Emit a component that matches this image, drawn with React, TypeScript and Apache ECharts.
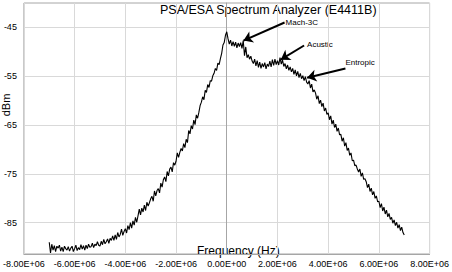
import React, { useEffect, useRef } from "react";
import * as echarts from "echarts";

// Sweep grid of the analyzer trace (Hz)
const sweepStartHz = -7.0e6;
const sweepStepHz = 0.05e6;

// Measured level for each sweep point (dBm), -7.00 MHz .. +7.00 MHz
const levelsDbm: number[] = [
  -89.0, -91.2, -89.4, -90.6, -89.7, -90.9, -89.8, -90.2, -89.6, -90.8,
  -90.0, -90.9, -89.8, -90.3, -90.6, -89.9, -90.8, -90.2, -89.8, -90.9,
  -90.3, -89.6, -90.7, -90.1, -90.5, -89.5, -90.4, -89.7, -90.6, -89.6,
  -90.3, -89.4, -90.0, -89.9, -89.2, -90.1, -89.4, -89.7, -88.9, -89.6,
  -89.8, -88.8, -89.5, -88.4, -89.3, -88.9, -88.3, -89.2, -88.2, -88.6,
  -87.7, -88.6, -87.5, -88.4, -87.0, -87.9, -87.4, -86.3, -87.6, -86.8,
  -86.2, -87.1, -85.6, -86.4, -85.0, -86.1, -84.6, -85.5, -83.9, -84.9,
  -83.6, -82.2, -83.4, -82.0, -82.8, -81.4, -82.5, -80.8, -81.6, -80.9,
  -80.1, -79.6, -80.6, -78.5, -79.5, -78.4, -78.0, -78.9, -76.9, -77.7,
  -76.2, -75.6, -76.6, -74.5, -75.4, -74.0, -73.6, -74.6, -72.7, -73.2,
  -72.4, -70.7, -71.6, -70.6, -69.8, -70.3, -68.8, -69.6, -67.9, -68.6,
  -66.1, -66.8, -65.1, -65.8, -64.0, -64.9, -62.9, -63.6, -62.4, -61.0,
  -60.3, -59.2, -59.8, -57.9, -58.3, -56.7, -57.3, -55.9, -56.0, -54.9,
  -54.4, -53.4, -53.8, -52.3, -52.6, -51.4, -50.3, -48.6, -48.1, -46.6,
  -45.9, -47.3, -48.4, -47.6, -48.8, -47.9, -48.9, -48.0, -49.2, -48.2,
  -48.9, -48.1, -49.3, -47.7, -50.8, -49.0, -51.2, -50.6, -51.5, -50.9,
  -51.9, -52.4, -51.5, -52.9, -51.8, -53.2, -52.1, -53.4, -52.4, -53.1,
  -52.2, -53.5, -52.5, -53.0, -51.9, -53.1, -51.6, -52.8, -51.5, -52.6,
  -51.8, -52.7, -51.2, -52.5, -51.7, -53.0, -52.4, -53.5, -52.7, -53.8,
  -53.1, -54.1, -53.4, -54.6, -53.7, -54.9, -54.0, -55.3, -54.4, -55.5,
  -54.9, -55.9, -55.1, -56.2, -56.6, -55.9, -57.4, -56.6, -58.2, -57.8,
  -58.4, -59.7, -59.0, -60.6, -59.9, -61.2, -60.5, -62.1, -61.5, -62.8,
  -62.5, -63.9, -63.1, -64.8, -64.0, -65.5, -64.8, -66.3, -65.6, -67.0,
  -66.9, -68.3, -67.6, -69.3, -68.6, -70.2, -69.7, -71.2, -70.7, -72.3,
  -72.2, -73.3, -73.2, -74.0, -74.6, -74.0, -75.5, -74.8, -76.1, -76.0,
  -76.6, -77.8, -77.1, -78.6, -77.9, -79.3, -78.6, -80.0, -79.5, -80.7,
  -80.6, -81.9, -81.1, -82.6, -81.8, -83.2, -82.4, -83.8, -83.1, -84.3,
  -83.9, -85.1, -84.4, -85.6, -84.9, -86.1, -85.4, -86.6, -85.9, -87.0,
  -87.5,
];

// Axis ranges and tick positions
const xMinHz = -8e6;
const xMaxHz = 8e6;
const xStepHz = 2e6;
const yMinDbm = -91.4;
const yMaxDbm = -40;
const yTicksDbm = [-85, -75, -65, -55, -45];

// Callouts: label, arrow tail [Hz, dBm], arrow tip [Hz, dBm]
const calloutNames = ["Mach-3C", "Acustic", "Entropic"];
const calloutTails: [number, number][] = [
  [2.28e6, -44.0],
  [3.05e6, -48.7],
  [4.68e6, -53.4],
];
const calloutTips: [number, number][] = [
  [0.66e6, -47.7],
  [2.13e6, -51.6],
  [3.17e6, -55.3],
];
// label nudge from the arrow tail, px
const calloutOffsets: [number, number][] = [
  [1, 0],
  [3, -1],
  [0, -6],
];

const sci = (v: number) => {
  const [m, e] = v.toExponential(2).split("e");
  const n = parseInt(e, 10);
  return `${m.toUpperCase()}E${n < 0 ? "-" : "+"}${String(Math.abs(n)).padStart(2, "0")}`;
};

export default function App() {
  const ref = useRef<HTMLDivElement>(null);

  useEffect(() => {
    if (!ref.current) return;
    const chart = echarts.init(ref.current, null, { renderer: "svg" });
    const font = "Liberation Sans, Arial, sans-serif";
    const trace = levelsDbm.map((y, i) => [sweepStartHz + i * sweepStepHz, y]);

    const fixedTexts = [
      {
        type: "text",
        x: 160,
        y: 10,
        style: {
          text: "PSA/ESA Spectrum Analyzer (E4411B)",
          fontFamily: font,
          fontSize: 12.5,
          fill: "#000",
          verticalAlign: "middle",
        },
      },
      {
        type: "text",
        x: 6,
        y: 105,
        rotation: Math.PI / 2,
        style: {
          text: "dBm",
          fontFamily: font,
          fontSize: 11,
          fill: "#000",
          align: "center",
          verticalAlign: "middle",
        },
      },
      {
        type: "text",
        x: 197,
        y: 251,
        style: {
          text: "Frequency (Hz)",
          fontFamily: font,
          fontSize: 12,
          fill: "#000",
          verticalAlign: "middle",
        },
      },
    ];

    chart.setOption({
      animation: false,
      backgroundColor: "#ffffff",
      grid: {
        left: 22,
        right: 16,
        top: 3,
        bottom: 18,
        show: true,
        borderColor: "#a6a6a6",
        borderWidth: 1,
      },
      xAxis: {
        type: "value",
        min: xMinHz,
        max: xMaxHz,
        interval: xStepHz,
        axisLine: { show: true, lineStyle: { color: "#a6a6a6" } },
        axisTick: { show: false },
        splitLine: { show: true, lineStyle: { color: "#d9d9d9", width: 1 } },
        axisLabel: {
          formatter: sci,
          fontFamily: font,
          fontSize: 9,
          color: "#000",
          margin: 5,
          showMinLabel: true,
          showMaxLabel: true,
        },
      },
      yAxis: {
        type: "value",
        min: yMinDbm,
        max: yMaxDbm,
        axisLine: { show: true, lineStyle: { color: "#a6a6a6" } },
        axisTick: { show: false, customValues: yTicksDbm },
        splitLine: { show: true, lineStyle: { color: "#d9d9d9", width: 1 } },
        axisLabel: {
          customValues: yTicksDbm,
          fontFamily: font,
          fontSize: 9,
          color: "#000",
          margin: 7,
        },
      },
      graphic: fixedTexts,
      series: [
        {
          type: "line",
          data: trace,
          showSymbol: false,
          lineStyle: { color: "#000", width: 1.1 },
          markLine: {
            silent: true,
            symbol: ["none", "arrow"],
            symbolSize: 9,
            lineStyle: { color: "#000", width: 2, type: "solid" },
            label: { show: false },
            data: calloutTails.map((t, i) => [{ coord: t }, { coord: calloutTips[i] }]),
          },
        },
      ],
    });

    // callout captions sit just beyond each arrow's tail
    const captions = calloutTails.map((t, i) => {
      const [px, py] = chart.convertToPixel({ gridIndex: 0 }, t) as number[];
      return {
        type: "text",
        x: px + calloutOffsets[i][0],
        y: py + calloutOffsets[i][1],
        style: {
          text: calloutNames[i],
          fontFamily: font,
          fontSize: 8,
          fill: "#000",
          verticalAlign: "middle",
        },
      };
    });
    chart.setOption({ graphic: [...fixedTexts, ...captions] });

    return () => chart.dispose();
  }, []);

  return (
    <div
      ref={ref}
      style={{ position: "fixed", left: 0, top: 0, width: 452, height: 272 }}
    />
  );
}
